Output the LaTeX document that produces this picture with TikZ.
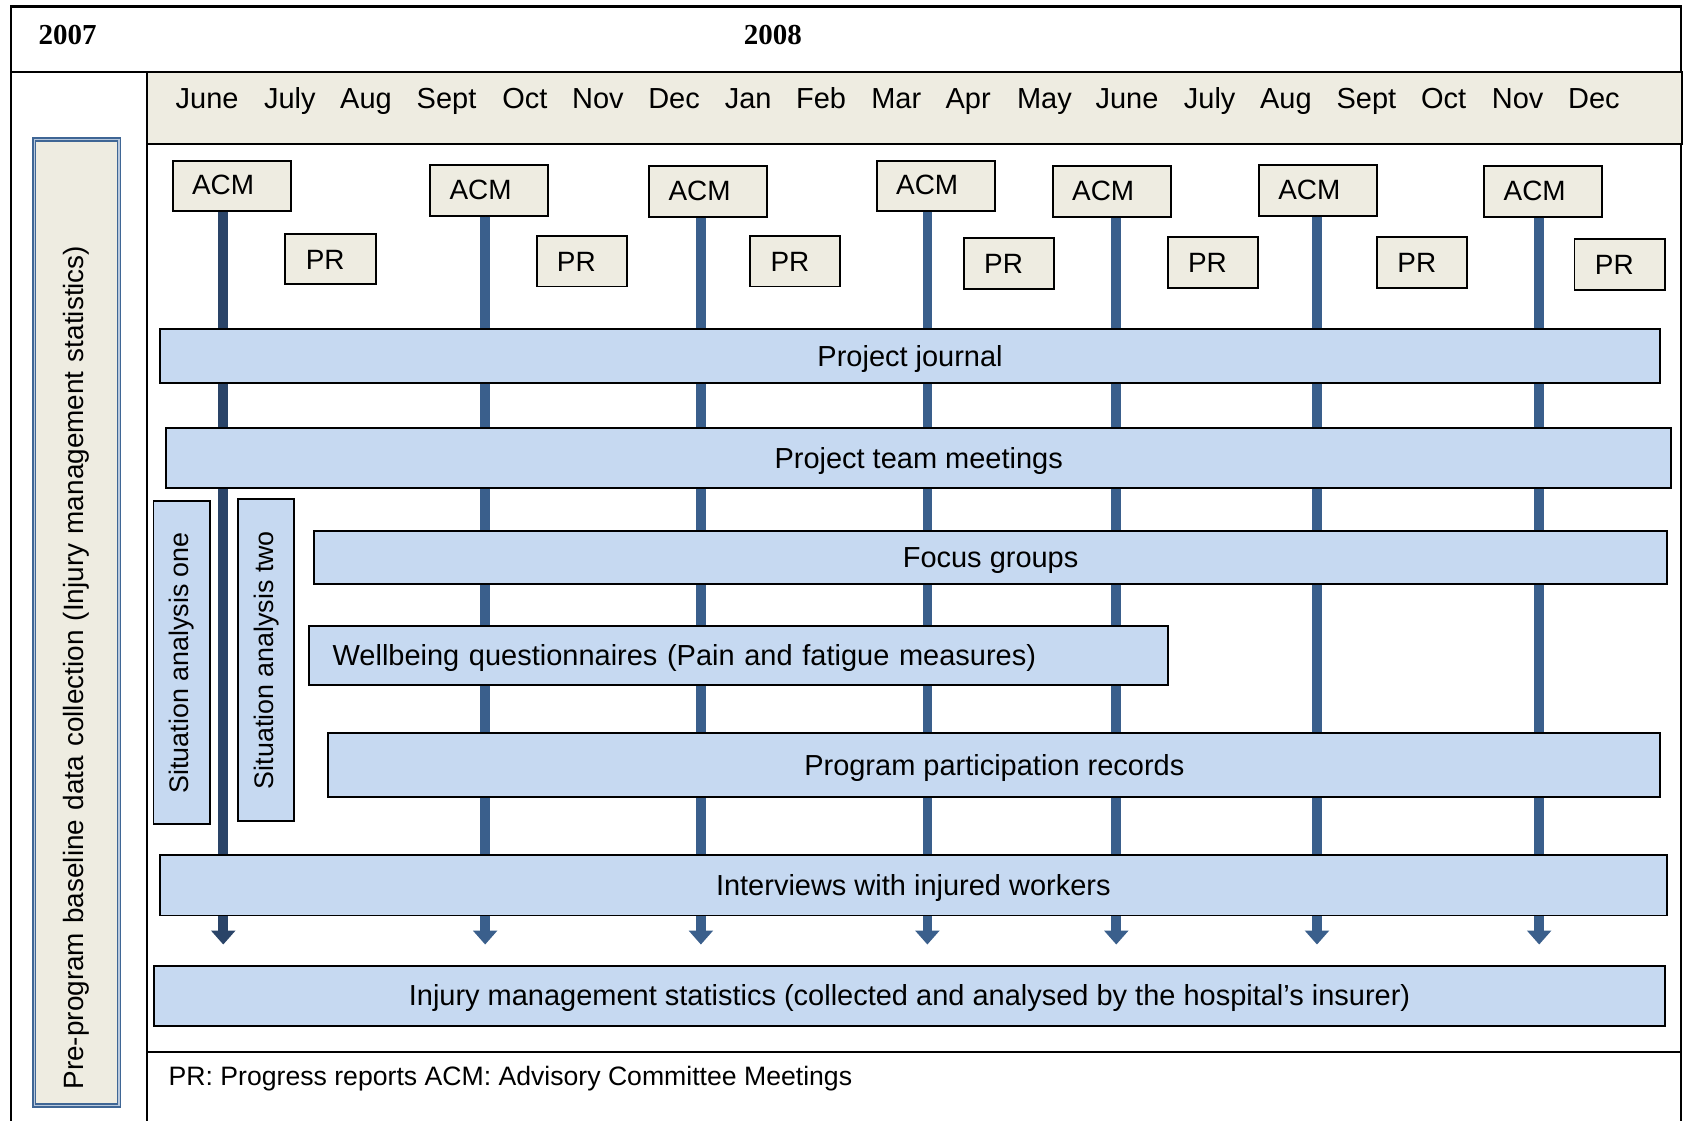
\documentclass[tikz,border=0pt]{standalone}
\usepackage{fontspec}
\setmainfont{Liberation Sans}
\newfontfamily\yearfont{Liberation Serif}
\usetikzlibrary{arrows.meta}
\definecolor{beige}{HTML}{EEECE1}
\definecolor{barblue}{HTML}{C6D9F1}
\definecolor{lineblue}{HTML}{3A5F8C}
\definecolor{linedark}{HTML}{2A4468}
\definecolor{frameblue}{HTML}{3F6695}
\definecolor{gapblue}{HTML}{B9C9DD}
\tikzset{
  frame/.style={line width=2pt, draw=black},
  boxbase/.style={draw=black, line width=1.8pt, inner sep=0pt, anchor=north west},
  acmbox/.style={boxbase, fill=beige, minimum height=47pt, inner xsep=18pt, text width=74pt, align=left, text height=19pt, text depth=3pt, font=\fontsize{26}{30}\selectfont},
  prbox/.style={boxbase, fill=beige, minimum height=47pt, inner xsep=19pt, text width=46pt, align=left, text height=22pt, text depth=3pt, font=\fontsize{26}{30}\selectfont},
  bar/.style={boxbase, fill=barblue, text height=22.5pt, text depth=4pt, font=\fontsize{27}{32}\selectfont},
  sitbox/.style={draw=black, line width=1.8pt, fill=barblue, inner sep=0pt, rotate=90, minimum width=301pt, minimum height=53pt, font=\fontsize{25}{30}\selectfont},
  month/.style={font=\fontsize{27}{32}\selectfont, inner sep=0pt, anchor=base},
  year/.style={font=\yearfont\bfseries\fontsize{27}{32}\selectfont, inner sep=0pt},
  vline/.style={line width=9pt, draw=lineblue, -{Triangle[width=22pt,length=13pt]}},
}
\begin{document}
\begin{tikzpicture}[x=1pt, y=-1pt]
\useasboundingbox (0,0) rectangle (1568,1044);
% frame
\draw[frame] (10,1044) -- (10,6) -- (1566,6) -- (1566,1044);
\draw[frame] (10,67) -- (137,67);
\draw[frame, fill=beige] (137,67) rectangle (1567,134);
\draw[frame] (137,67) -- (137,1044);
\draw[frame] (137,980) -- (1566,980);
% years
\node[year] (y2007) at (63,33) {2007};
\node[year] (y2008) at (720,33) {2008};
% months
\foreach \m/\x [count=\i] in {June/193, July/270, Aug/341, Sept/416, Oct/489, Nov/557, Dec/628, Jan/697, Feb/765, Mar/835, Apr/902, May/973, June/1050, July/1127, Aug/1198, Sept/1273, Oct/1345, Nov/1414, Dec/1485}
  \node[month] (m\i) at (\x,101) {\m};
% left box
\node[draw=frameblue, line width=1.3pt, double=gapblue, double distance=1.4pt, fill=beige, rotate=90,
      minimum width=900pt, minimum height=79pt, inner xsep=15pt, inner ysep=0pt, text width=870pt, align=left,
      font=\fontsize{26}{30}\selectfont] (pre) at (71.5,580)
  {Pre-program baseline data collection (Injury management statistics)};
% ACM boxes
\node[acmbox] (acm1) at (160,149) {ACM};
\node[acmbox] (acm2) at (400,153) {ACM};
\node[acmbox] (acm3) at (604,154) {ACM};
\node[acmbox] (acm4) at (816,149) {ACM};
\node[acmbox] (acm5) at (980,154) {ACM};
\node[acmbox] (acm6) at (1172,153) {ACM};
\node[acmbox] (acm7) at (1382,154) {ACM};
% PR boxes
\node[prbox] (pr1) at (265,217) {PR};
\node[prbox] (pr2) at (499,219) {PR};
\node[prbox] (pr3) at (698,219) {PR};
\node[prbox] (pr4) at (897,221) {PR};
\node[prbox] (pr5) at (1087,220) {PR};
\node[prbox] (pr6) at (1282,220) {PR};
\node[prbox] (pr7) at (1466,222) {PR};
% arrow ends
\coordinate (e1) at (208,880);
\coordinate (e2) at (452,880);
\coordinate (e3) at (653,880);
\coordinate (e4) at (864,880);
\coordinate (e5) at (1040,880);
\coordinate (e6) at (1227,880);
\coordinate (e7) at (1434,880);
\draw[vline, draw=linedark, fill=linedark] (acm1.south -| e1) -- (e1);
\foreach \i in {2,...,7}
  \draw[vline, fill=lineblue] (acm\i.south -| e\i) -- (e\i);
% bars
\node[bar, minimum width=1398pt, minimum height=50pt] (journal) at (148,306) {Project journal};
\node[bar, minimum width=1402pt, minimum height=56pt] (team) at (154,398) {Project team meetings};
\node[bar, minimum width=1260pt, minimum height=49pt] (focus) at (292,494) {Focus groups};
\node[bar, minimum height=55pt, inner xsep=22pt, text width=756pt, align=left] (well) at (287,582) {Wellbeing questionnaires (Pain and fatigue measures)};
\node[bar, minimum width=1241pt, minimum height=60pt] (prog) at (305,682) {Program participation records};
\node[bar, minimum width=1404pt, minimum height=56pt] (inter) at (148,796) {Interviews with injured workers};
\node[bar, minimum width=1407pt, minimum height=56pt] (stats) at (143,899) {Injury management statistics (collected and analysed by the hospital’s insurer)};
% situation analyses
\node[sitbox] (sit1) at (169.5,617.5) {Situation analysis one};
\node[sitbox, minimum width=300pt, minimum height=52pt] (sit2) at (248,615) {Situation analysis two};
% legend
\node[anchor=west, inner sep=0pt, font=\fontsize{24.8}{30}\selectfont] (legend) at (157,1005) {PR: Progress reports ACM: Advisory Committee Meetings};
\end{tikzpicture}
\end{document}
